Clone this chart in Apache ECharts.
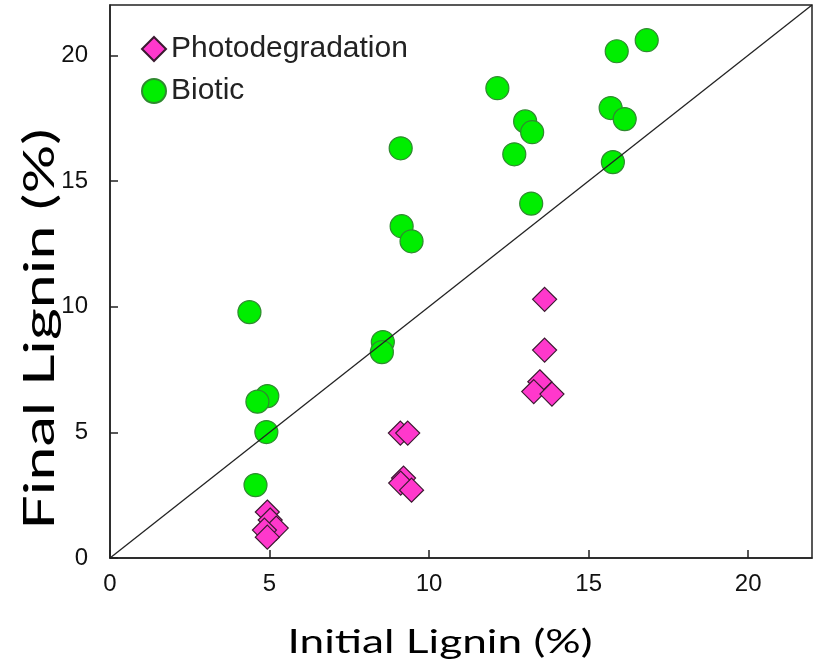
<!DOCTYPE html>
<html>
<head>
<meta charset="utf-8">
<script src="https://cdn.jsdelivr.net/npm/echarts@6/dist/echarts.min.js"></script>
<style>html,body{margin:0;padding:0;background:#fff}#c{width:815px;height:671px}</style>
</head>
<body>
<div id="c"></div>
<script>
var xTicks = [0, 5, 10, 15, 20];
var yTicks = [0, 5, 10, 15, 20];
var photoX = [4.93, 5.02, 5.21, 4.84, 4.93, 9.10, 9.33, 9.20, 9.11, 9.45, 13.62, 13.62, 13.47, 13.28, 13.85];
var photoY = [1.83, 1.51, 1.19, 1.11, 0.83, 4.97, 4.97, 3.18, 2.98, 2.70, 10.29, 8.27, 7.01, 6.62, 6.52];
var bioX = [4.37, 4.93, 4.62, 4.90, 4.56, 8.55, 8.52, 9.11, 9.14, 9.45, 12.14, 13.01, 13.23, 12.67, 13.20, 15.69, 16.13, 15.88, 16.82, 15.76];
var bioY = [9.78, 6.44, 6.22, 5.01, 2.90, 8.59, 8.19, 16.30, 13.20, 12.60, 18.69, 17.37, 16.94, 16.06, 14.10, 17.90, 17.46, 20.16, 20.60, 15.75];
var lineX = [0, 22];
var lineY = [0, 22];

function pairs(a, b) { return a.map(function (v, i) { return [v, b[i]]; }); }

var chart = echarts.init(document.getElementById('c'));
var axisCommon = {
  type: 'value', min: 0, max: 22,
  axisLine: { show: true, lineStyle: { color: '#222', width: 1.5 } },
  axisTick: { show: true, inside: true, length: 8, lineStyle: { color: '#222', width: 1.5 } },
  splitLine: { show: false },
  axisLabel: { color: '#111', fontFamily: 'Liberation Sans', fontSize: 24 }
};
chart.setOption({
  animation: false,
  grid: { left: 110, right: 3, top: 5, bottom: 113, show: true, borderColor: '#222', borderWidth: 1.5 },
  xAxis: Object.assign({}, axisCommon, {
    axisTick: Object.assign({}, axisCommon.axisTick, { customValues: xTicks }),
    axisLabel: Object.assign({}, axisCommon.axisLabel, { customValues: xTicks, margin: 14 })
  }),
  yAxis: Object.assign({}, axisCommon, {
    axisTick: Object.assign({}, axisCommon.axisTick, { customValues: yTicks }),
    axisLabel: Object.assign({}, axisCommon.axisLabel, { customValues: yTicks, margin: 22 })
  }),
  legend: {
    data: ['Photodegradation', 'Biotic'],
    orient: 'vertical', left: 136, top: 29,
    itemWidth: 24, itemHeight: 24, itemGap: 12,
    textStyle: { fontFamily: 'Liberation Sans', fontSize: 30, color: '#222', lineHeight: 30 }
  },
  graphic: [
    { type: 'text', x: 440, y: 642, scaleX: 1.34,
      style: { text: 'Initial Lignin (%)', fontFamily: 'Lato', fontSize: 33, fill: '#000', align: 'center', verticalAlign: 'middle' } },
    { type: 'text', x: 40, y: 329, rotation: Math.PI / 2, scaleX: 1.42,
      style: { text: 'Final Lignin (%)', fontFamily: 'Lato', fontSize: 43, fill: '#000', align: 'center', verticalAlign: 'middle' } }
  ],
  series: [
    { name: 'Photodegradation', type: 'scatter', symbol: 'diamond', symbolSize: 24,
      data: pairs(photoX, photoY),
      itemStyle: { color: '#ff38cc', borderColor: '#3a1a30', borderWidth: 1.2, opacity: 1 } },
    { name: 'Biotic', type: 'scatter', symbol: 'circle', symbolSize: 23,
      data: pairs(bioX, bioY),
      itemStyle: { color: '#00ee00', borderColor: '#2f8a2f', borderWidth: 1.2, opacity: 1 } },
    { name: 'identity', type: 'line', data: pairs(lineX, lineY), showSymbol: false, symbol: 'none',
      lineStyle: { color: '#222', width: 1.3 }, z: 5, silent: true }
  ]
});
</script>
</body>
</html>
